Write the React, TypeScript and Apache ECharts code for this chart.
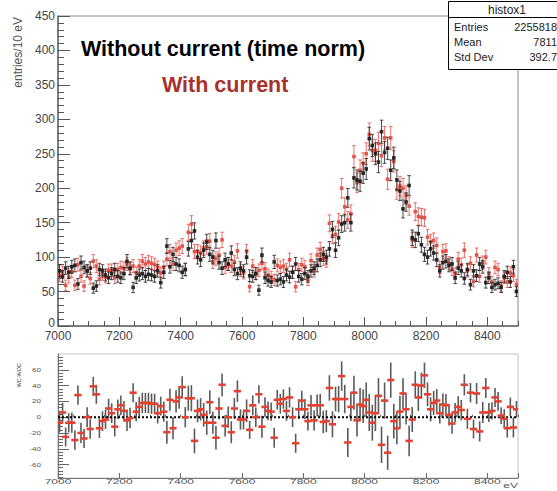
import React, { useEffect, useRef } from 'react';
import * as echarts from 'echarts';

// 10 eV bins starting at 7000 eV
const binStart = 7000;
const binWidth = 10;

// entries per 10 eV, "Without current (time norm)"
const withoutCurrent = [
  80, 72, 84, 78, 86, 88, 61, 92, 85, 80,
  84, 55, 58, 82, 80, 74, 70, 76, 82, 72,
  70, 76, 94, 84, 56, 70, 74, 76, 72, 75,
  74, 72, 80, 63, 78, 116, 86, 104, 90, 88,
  78, 82, 112, 124, 138, 100, 96, 110, 122, 104,
  100, 124, 92, 84, 96, 90, 106, 82, 76, 84,
  80, 100, 73, 72, 76, 52, 103, 70, 66, 64,
  93, 66, 68, 64, 74, 71, 78, 90, 72, 68,
  76, 72, 80, 84, 88, 96, 104, 100, 112, 140,
  110, 128, 148, 150, 186, 150, 215, 212, 210, 222,
  228, 272, 262, 250, 238, 282, 252, 258, 226, 244,
  212, 196, 170, 180, 204, 128, 125, 134, 118, 104,
  100, 112, 106, 96, 80, 92, 94, 88, 90, 70,
  84, 80, 69, 82, 60, 80, 73, 90, 86, 63,
  70, 56, 60, 62, 56, 72, 78, 64, 86, 50,
];

// entries per 10 eV, "With current"
const withCurrent = [
  73, 78, 59, 71, 79, 59, 89, 72, 58, 80,
  69, 94, 87, 68, 75, 71, 81, 81, 70, 82,
  85, 84, 90, 83, 87, 77, 87, 94, 90, 93,
  91, 89, 85, 77, 85, 97, 108, 90, 110, 113,
  116, 82, 136, 148, 108, 108, 106, 113, 115, 123,
  93, 98, 103, 125, 85, 90, 87, 93, 109, 81,
  77, 108, 57, 87, 76, 81, 91, 83, 74, 71,
  67, 88, 85, 87, 82, 96, 78, 57, 82, 89,
  86, 67, 95, 80, 103, 111, 98, 95, 149, 131,
  133, 151, 200, 173, 154, 163, 246, 208, 226, 236,
  250, 278, 255, 255, 265, 247, 273, 213, 273, 239,
  198, 203, 200, 190, 174, 125, 166, 159, 158, 157,
  129, 122, 124, 117, 85, 108, 109, 91, 82, 76,
  97, 89, 110, 80, 91, 65, 103, 72, 92, 100,
  76, 64, 85, 82, 58, 70, 64, 77, 73, 60,
];

// WC - WOC difference panel
const difference = [
  -7, 6, -25, -7, -7, -29, 28, -20, -27, 0,
  -15, 39, 29, -14, -5, -3, 11, 5, -12, 10,
  15, 8, -4, -1, 31, 7, 13, 18, 18, 18,
  17, 17, 5, 14, 7, -19, 22, -14, 20, 25,
  38, 0, 24, 24, -30, 8, 10, 3, -7, 19,
  -7, -26, 11, 41, -11, 0, -19, 11, 33, -3,
  -3, 8, -16, 15, 0, 29, -12, 13, 8, 7,
  -26, 22, 17, 23, 8, 25, 0, -33, 10, 21,
  10, -5, 15, -4, 15, 15, -6, -5, 37, -9,
  23, 23, 52, 23, -32, 13, 31, -4, 16, 14,
  22, 6, -7, 5, 27, -35, 21, -45, 47, -5,
  -14, 7, 30, 10, -30, -3, 41, 25, 40, 53,
  29, 10, 18, 21, 5, 16, 15, 3, -8, 6,
  13, 9, 41, -2, 31, -15, 30, -18, 6, 37,
  6, 8, 25, 20, 2, -2, -14, 13, -13, 10,
];

const topXTicks = [7000, 7200, 7400, 7600, 7800, 8000, 8200, 8400];
const topYTicks = [0, 50, 100, 150, 200, 250, 300, 350, 400, 450];
const bottomXTicks = [7000, 7200, 7400, 7600, 7800, 8000, 8200, 8400];
const bottomYTicks = [-60, -40, -20, 0, 20, 40, 60];

const statsTitle = 'histox1';
const statsLabels = ['Entries', 'Mean', 'Std Dev'];
const statsValues = ['2255818', '7811', '392.7'];

const legendBlack = 'Without current (time norm)';
const legendRed = 'With current';
const yTitleTop = 'entries/10 eV';
const yTitleBottom = 'WC-WOC';
const xTitleBottom = 'eV';

const FONT = "'Liberation Sans', Arial, Helvetica, sans-serif";

function center(i: number) {
  return binStart + binWidth * i + binWidth / 2;
}

function makeHistRender(markerColor: string, barColor: string) {
  return (params: any, api: any) => {
    const x = api.value(0);
    const y = api.value(1);
    const e = api.value(2);
    const c = api.coord([x, y]);
    const t = api.coord([x, y + e]);
    const b = api.coord([x, y - e]);
    const cap = 1.8;
    const m = 1.8;
    return {
      type: 'group',
      children: [
        { type: 'line', shape: { x1: c[0], y1: t[1], x2: c[0], y2: b[1] }, style: { stroke: barColor, lineWidth: 1 } },
        { type: 'line', shape: { x1: c[0] - cap, y1: t[1], x2: c[0] + cap, y2: t[1] }, style: { stroke: barColor, lineWidth: 1 } },
        { type: 'line', shape: { x1: c[0] - cap, y1: b[1], x2: c[0] + cap, y2: b[1] }, style: { stroke: barColor, lineWidth: 1 } },
        { type: 'rect', shape: { x: c[0] - m, y: c[1] - m, width: 2 * m, height: 2 * m }, style: { fill: markerColor } },
      ],
    };
  };
}

function diffBarRender(params: any, api: any) {
  const x = api.value(0);
  const y = api.value(1);
  const e = api.value(2);
  const t = api.coord([x, y + e]);
  const b = api.coord([x, y - e]);
  return {
    type: 'line',
    shape: { x1: t[0], y1: t[1], x2: b[0], y2: b[1] },
    style: { stroke: '#5a5a5a', lineWidth: 1.6 },
  };
}

function diffMarkRender(params: any, api: any) {
  const x = api.value(0);
  const y = api.value(1);
  const c = api.coord([x, y]);
  return {
    type: 'rect',
    shape: { x: c[0] - 3.6, y: c[1] - 1.3, width: 7.2, height: 2.6 },
    style: { fill: '#e6412f' },
  };
}

export default function App() {
  const ref = useRef<HTMLDivElement>(null);

  useEffect(() => {
    if (!ref.current) return;
    const chart = echarts.init(ref.current, undefined, { renderer: 'svg' });

    const blackData = withoutCurrent.map((v, i) => [center(i), v, Math.sqrt(v)]);
    const redData = withCurrent.map((v, i) => [center(i), v, Math.sqrt(v)]);
    const diffData = difference.map((v, i) => [
      center(i),
      v,
      Math.sqrt(withoutCurrent[i] + withCurrent[i]),
    ]);

    const minorY: number[] = [];
    for (let v = -76; v <= 80; v += 4) if (v % 20 !== 0) minorY.push(v);

    const tickStyle = { color: '#555', width: 1 };

    const option: any = {
      animation: false,
      backgroundColor: '#ffffff',
      grid: [
        { left: 58, top: 16, width: 460, height: 310, show: true, borderColor: '#8a8a8a', borderWidth: 1, containLabel: false, outerBoundsMode: 'none' },
        { left: 58, top: 354, width: 460, height: 124, show: true, borderColor: '#c4c4c4', borderWidth: 1, containLabel: false, outerBoundsMode: 'none' },
      ],
      xAxis: [
        {
          type: 'value', gridIndex: 0, position: 'bottom', min: 7000, max: 8500, interval: 200,
          axisLine: { show: true, onZero: false, lineStyle: { color: '#666', width: 1.5 } },
          axisTick: { show: true, inside: true, length: 9, lineStyle: tickStyle },
          axisLabel: { show: true, showMaxLabel: false, hideOverlap: false, margin: 4, fontSize: 12, color: '#444', fontFamily: FONT, formatter: (v: number) => (topXTicks.indexOf(v) >= 0 ? String(v) : '') },
          splitLine: { show: false },
        },
        {
          type: 'value', gridIndex: 0, position: 'bottom', offset: 0, min: 7000, max: 8500, interval: 50,
          axisLine: { show: false },
          axisTick: { show: true, inside: true, length: 5, lineStyle: tickStyle },
          axisLabel: { show: false },
          splitLine: { show: false },
        },
        {
          type: 'value', gridIndex: 1, position: 'bottom', min: 7000, max: 8500, interval: 200,
          axisLine: { show: true, onZero: false, lineStyle: { color: '#777', width: 1.2 } },
          axisTick: { show: true, inside: true, length: 5, lineStyle: { color: '#666', width: 1 } },
          axisLabel: { show: false },
          splitLine: { show: false },
        },
        {
          type: 'value', gridIndex: 1, position: 'bottom', offset: 0, min: 7000, max: 8500, interval: 50,
          axisLine: { show: false },
          axisTick: { show: true, inside: true, length: 2.5, lineStyle: { color: '#666', width: 1 } },
          axisLabel: { show: false },
          splitLine: { show: false },
        },
      ],
      yAxis: [
        {
          type: 'value', gridIndex: 0, position: 'left', min: 0, max: 450, interval: 50,
          axisLine: { show: true, onZero: false, lineStyle: { color: '#666', width: 1.5 } },
          axisTick: { show: true, inside: true, length: 12, lineStyle: tickStyle },
          minorTick: { show: true, splitNumber: 5, length: 6, lineStyle: tickStyle },
          axisLabel: {
            show: true, margin: 3, fontSize: 12, color: '#444', fontFamily: FONT,
            formatter: (v: number) => (topYTicks.indexOf(v) < 0 ? '' : v === 0 ? '{z|0}' : String(v)),
            rich: { z: { fontSize: 12, color: '#444', fontFamily: FONT, padding: [0, 0, 6, 0] } },
          },
          splitLine: { show: false },
        },
        {
          type: 'value', gridIndex: 1, position: 'left', min: -77, max: 80,
          axisLine: { show: true, onZero: false, lineStyle: { color: '#777', width: 1.2 } },
          axisTick: { show: true, inside: true, length: 11, customValues: bottomYTicks, lineStyle: { color: '#666', width: 1 } },
          axisLabel: { show: false },
          splitLine: { show: false },
        },
        {
          type: 'value', gridIndex: 1, position: 'left', offset: 0, min: -77, max: 80,
          axisLine: { show: false },
          axisTick: { show: true, inside: true, length: 5, customValues: minorY, lineStyle: { color: '#666', width: 1 } },
          axisLabel: { show: false },
          splitLine: { show: false },
        },
      ],
      series: [
        { type: 'custom', name: legendRed, xAxisIndex: 0, yAxisIndex: 0, data: redData, renderItem: makeHistRender('rgba(226,72,62,0.9)', 'rgba(228,92,84,0.85)'), clip: true, z: 3 },
        { type: 'custom', name: legendBlack, xAxisIndex: 0, yAxisIndex: 0, data: blackData, renderItem: makeHistRender('rgba(25,25,25,0.9)', 'rgba(40,40,40,0.85)'), clip: true, z: 4 },
        { type: 'custom', name: 'diff-err', xAxisIndex: 2, yAxisIndex: 1, data: diffData, renderItem: diffBarRender, clip: true, z: 2 },
        {
          type: 'line', name: 'zero', xAxisIndex: 2, yAxisIndex: 1, data: [[7000, 0], [8500, 0]],
          symbol: 'none', silent: true, z: 3,
          lineStyle: { color: '#000', width: 2, type: [2, 2] },
        },
        { type: 'custom', name: 'diff', xAxisIndex: 2, yAxisIndex: 1, data: diffData, renderItem: diffMarkRender, clip: true, z: 4 },
      ],
    };

    chart.setOption(option);

    const labelGraphics: any[] = [];
    bottomXTicks.forEach((v) => {
      const px = chart.convertToPixel({ xAxisIndex: 2 } as any, v) as any as number;
      labelGraphics.push({
        type: 'text', x: px, y: 481.5, scaleY: 0.55, z: 50,
        style: { text: String(v), fontSize: 12, fontFamily: FONT, fill: '#555', align: 'center', verticalAlign: 'middle' },
      });
    });
    bottomYTicks.forEach((v) => {
      const py = chart.convertToPixel({ yAxisIndex: 1 } as any, v) as any as number;
      labelGraphics.push({
        type: 'text', x: 41, y: py, scaleY: 0.65, z: 50,
        style: { text: String(v), fontSize: 8, fontFamily: FONT, fill: '#555', align: 'right', verticalAlign: 'middle' },
      });
    });

    const statsRows = statsLabels.map((lab, i) => [
      { type: 'text', x: 454, y: 27 + i * 15, z: 101, style: { text: lab, fontSize: 11, fontFamily: FONT, fill: '#222', align: 'left', verticalAlign: 'middle' } },
      { type: 'text', x: 557, y: 27 + i * 15, z: 101, style: { text: statsValues[i], fontSize: 11, fontFamily: FONT, fill: '#222', align: 'right', verticalAlign: 'middle' } },
    ]).flat();

    chart.setOption({
      graphic: [
        ...labelGraphics,
        { type: 'rect', z: 100, shape: { x: 448.5, y: 1.5, width: 130, height: 68 }, style: { fill: '#fff', stroke: '#000', lineWidth: 1 } },
        { type: 'line', z: 101, shape: { x1: 448.5, y1: 17.5, x2: 580, y2: 17.5 }, style: { stroke: '#000', lineWidth: 1 } },
        { type: 'text', x: 507, y: 9.5, z: 101, style: { text: statsTitle, fontSize: 12, fontFamily: FONT, fill: '#222', align: 'center', verticalAlign: 'middle' } },
        ...statsRows,
        { type: 'text', x: 81, y: 49, z: 60, style: { text: legendBlack, fontSize: 21.5, fontWeight: 'bold', fontFamily: FONT, fill: '#000', align: 'left', verticalAlign: 'middle' } },
        { type: 'text', x: 162, y: 85, z: 60, style: { text: legendRed, fontSize: 21.5, fontWeight: 'bold', fontFamily: FONT, fill: '#a8322a', align: 'left', verticalAlign: 'middle' } },
        { type: 'text', x: 18, y: 17, rotation: Math.PI / 2, z: 60, style: { text: yTitleTop, fontSize: 12, fontFamily: FONT, fill: '#555', align: 'right', verticalAlign: 'middle' } },
        { type: 'text', x: 19, y: 363, rotation: Math.PI / 2, z: 60, style: { text: yTitleBottom, fontSize: 5.5, fontFamily: FONT, fill: '#333', align: 'right', verticalAlign: 'middle' } },
        { type: 'text', x: 518, y: 486, scaleY: 0.55, z: 60, style: { text: xTitleBottom, fontSize: 12, fontFamily: FONT, fill: '#555', align: 'right', verticalAlign: 'middle' } },
      ],
    });

    return () => {
      chart.dispose();
    };
  }, []);

  return (
    <div
      ref={ref}
      style={{ position: 'absolute', left: 0, top: 0, width: 557, height: 491, background: '#fff' }}
    />
  );
}
